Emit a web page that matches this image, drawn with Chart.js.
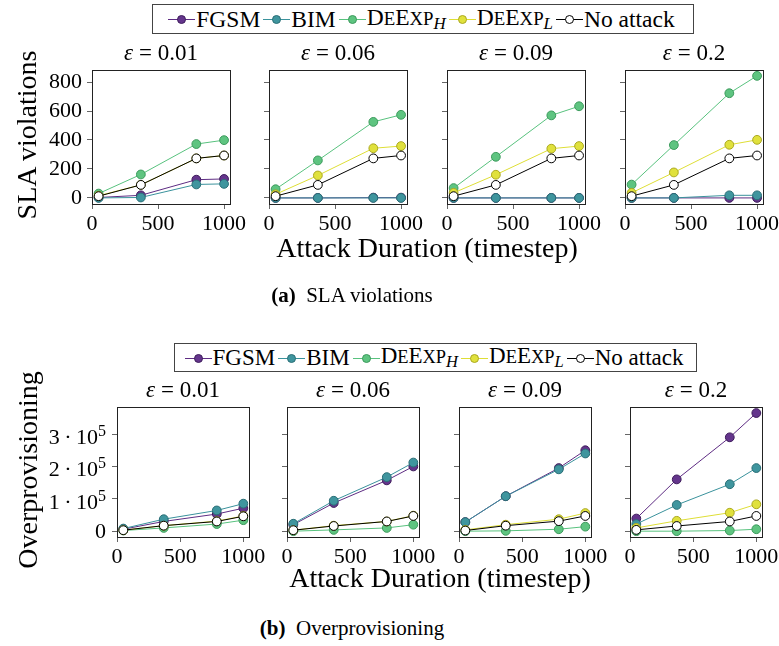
<!DOCTYPE html>
<html>
<head>
<meta charset="utf-8">
<script src="https://cdn.jsdelivr.net/npm/chart.js@4.4.1/dist/chart.umd.min.js"></script>
<style>
  body { margin: 0; background: #fff; width: 779px; height: 646px; position: relative; overflow: hidden;
         font-family: "Liberation Serif", "Times New Roman", serif; color: #000; }
  .abs { position: absolute; }
  .ctr { transform: translate(-50%, -50%); white-space: nowrap; }
  .title { font-size: 23px; }
  .axlabel { font-size: 28px; }
  .caption { font-size: 21px; }
  .legend { border: 1px solid #444; display: flex; align-items: center; justify-content: center; box-sizing: border-box; }
  .item { display: flex; align-items: center; margin-right: 3px; white-space: nowrap; }
  .mk { display: inline-block; width: 27px; height: 10px; position: relative; margin-right: 1px; }
  .mk::before { content: ""; position: absolute; left: 0; right: 0; top: 5px; border-top: 1px solid var(--c); }
  .mk::after { content: ""; position: absolute; left: 9px; top: 1px; width: 7px; height: 7px; border-radius: 50%;
               background: var(--f); border: 1px solid var(--b); }
  .s { font-size: 0.8em; }
  sub { font-size: 0.72em; vertical-align: -0.25em; }
  canvas { position: absolute; }
</style>
</head>
<body>
<script>
// x positions (attack duration, timestep)
const durations = [50, 370, 790, 1000];
const epsilons = ["0.01", "0.06", "0.09", "0.2"];

// SLA violations, one row per epsilon
const slaFGSM = [[3, 18, 126, 131], [0, 0, 2, 2], [0, 0, 0, 0], [0, 0, 0, 0]];
const slaBIM = [[0, 3, 93, 97], [0, 0, 0, 0], [0, 0, 0, 0], [0, 0, 18, 18]];
const slaDeExpH = [[30, 162, 372, 399], [60, 259, 525, 574], [68, 284, 570, 633], [92, 365, 723, 843]];
const slaDeExpL = [[15, 90, 273, 293], [25, 155, 343, 358], [35, 160, 340, 358], [35, 176, 367, 401]];
const slaNoAttack = [[12, 90, 273, 293], [12, 90, 273, 293], [12, 90, 273, 293], [12, 90, 273, 293]];
const slaTicks = [0, 200, 400, 600, 800];

// Overprovisioning, one row per epsilon
const ovFGSM = [[6e3, 30e3, 53e3, 71e3], [20e3, 87e3, 157e3, 200e3], [28e3, 108e3, 195e3, 250e3], [39e3, 160e3, 290e3, 365e3]];
const ovBIM = [[8e3, 37e3, 64e3, 85e3], [23e3, 94e3, 167e3, 212e3], [28e3, 108e3, 191e3, 240e3], [22e3, 81e3, 145e3, 195e3]];
const ovDeExpH = [[2e3, 10e3, 22e3, 34e3], [0, 4e3, 10e3, 20e3], [0, 1e3, 6e3, 14e3], [0, 0, 2e3, 6e3]];
const ovDeExpL = [[3e3, 17e3, 31e3, 47e3], [3e3, 17e3, 30e3, 48e3], [4e3, 20e3, 37e3, 56e3], [10e3, 32e3, 57e3, 83e3]];
const ovNoAttack = [[3e3, 17e3, 30e3, 46e3], [3e3, 16e3, 30e3, 47e3], [2e3, 17e3, 31e3, 47e3], [4e3, 16e3, 30e3, 47e3]];
const ovTicks = [0, 100000, 200000, 300000];
const xTicks = [0, 500, 1000];

const seriesStyle = [
    { label: "FGSM", line: "#5e2c83", fill: "#64358c", border: "#3f1d5c" },
    { label: "BIM", line: "#3a929c", fill: "#3f959e", border: "#2a6e76" },
    { label: "DeExpH", line: "#58c27e", fill: "#5ec480", border: "#3c9a5c" },
    { label: "DeExpL", line: "#dede36", fill: "#e0e13c", border: "#aaa820" },
    { label: "No attack", line: "#000000", fill: "#ffffff", border: "#000000" },
];

const rows = [
    { data: [slaFGSM, slaBIM, slaDeExpH, slaDeExpL, slaNoAttack], ticks: slaTicks, min: -42, max: 882,
      lefts: [92, 269, 447, 625], top: 67, w: 138, h: 137, sci: false },
    { data: [ovFGSM, ovBIM, ovDeExpH, ovDeExpL, ovNoAttack], ticks: ovTicks, min: -18000, max: 383000,
      lefts: [117, 287, 459, 630], top: 404, w: 132, h: 133, sci: true },
];

const serif = "'Liberation Serif', 'Times New Roman', serif";
const tickFont = { family: serif, size: 22 };
const L = 80, T = 15, R = 30, B = 40;

const boxPlugin = {
    id: "box",
    beforeDatasetsDraw(chart) {
        const a = chart.chartArea, ctx = chart.ctx;
        ctx.save();
        ctx.strokeStyle = "#222";
        ctx.lineWidth = 1;
        ctx.strokeRect(Math.round(a.left) + 0.5, Math.round(a.top) + 0.5, Math.round(a.right - a.left), Math.round(a.bottom - a.top));
        ctx.restore();
    },
};

// y tick labels like "3·10^5" with a real superscript
const sciTicksPlugin = {
    id: "sciTicks",
    afterDraw(chart, args, opts) {
        if (!opts.on) return;
        const ctx = chart.ctx, y = chart.scales.y;
        const right = chart.chartArea.left - 11;
        ctx.save();
        ctx.fillStyle = "#000";
        ctx.textAlign = "right";
        ctx.textBaseline = "alphabetic";
        y.ticks.forEach((t) => {
            const py = y.getPixelForValue(t.value);
            if (t.value === 0) {
                ctx.font = "22px " + serif;
                ctx.fillText("0", right, py + 7);
                return;
            }
            ctx.font = "16px " + serif;
            ctx.fillText("5", right, py + 2);
            const sw = ctx.measureText("5").width;
            ctx.font = "22px " + serif;
            ctx.fillText(t.value / 100000 + "\u2009\u00b7\u200910", right - sw, py + 10);
        });
        ctx.restore();
    },
};

function drawPanel(row, i) {
    const canvas = document.createElement("canvas");
    canvas.width = row.w + L + R;
    canvas.height = row.h + T + B;
    canvas.style.left = row.lefts[i] - L + "px";
    canvas.style.top = row.top - T + "px";
    document.body.appendChild(canvas);

    const order = [4, 3, 2, 1, 0];
    const datasets = seriesStyle.map((s, k) => ({
        label: s.label,
        data: durations.map((x, j) => ({ x: x, y: row.data[k][i][j] })),
        borderColor: s.line,
        borderWidth: 1,
        backgroundColor: s.fill,
        pointBackgroundColor: s.fill,
        pointBorderColor: s.border,
        pointBorderWidth: 1,
        pointRadius: 4.4,
        order: order[k],
    }));

    const showLabels = i === 0 && !row.sci;

    new Chart(canvas, {
        type: "line",
        data: { datasets: datasets },
        plugins: [boxPlugin, sciTicksPlugin],
        options: {
            responsive: false,
            animation: false,
            layout: { padding: { left: 0, top: T, right: R, bottom: 0 } },
            plugins: { legend: { display: false }, tooltip: { enabled: false }, sciTicks: { on: i === 0 && row.sci } },
            scales: {
                x: {
                    type: "linear", min: 0, max: 1045,
                    afterBuildTicks: (s) => { s.ticks = xTicks.map((v) => ({ value: v })); },
                    afterFit: (s) => { s.height = B; },
                    ticks: { font: tickFont, color: "#000", padding: 2, maxRotation: 0, callback: (v) => String(v) },
                    grid: { drawOnChartArea: false, tickLength: 5, color: "#666" },
                    border: { display: false },
                },
                y: {
                    type: "linear", min: row.min, max: row.max,
                    afterBuildTicks: (s) => { s.ticks = row.ticks.map((v) => ({ value: v })); },
                    afterFit: (s) => { s.width = L; },
                    ticks: { font: tickFont, color: "#000", padding: 5, callback: (v) => (showLabels ? String(v) : "") },
                    grid: { drawOnChartArea: false, tickLength: 5, color: "#666" },
                    border: { display: false },
                },
            },
        },
    });

    const t = document.createElement("div");
    t.className = "abs ctr title";
    t.style.left = row.lefts[i] + row.w / 2 + "px";
    t.style.top = row.top - 14 + "px";
    t.innerHTML = "<i>\u03b5</i> = " + epsilons[i];
    document.body.appendChild(t);
}

function addText(html, cls, x, y, rot) {
    const d = document.createElement("div");
    d.className = "abs ctr " + cls;
    d.style.left = x + "px";
    d.style.top = y + "px";
    if (rot) d.style.transform = "translate(-50%, -50%) rotate(-90deg)";
    d.innerHTML = html;
    document.body.appendChild(d);
}

function addLegend(left, top, width, height, size) {
    const lg = document.createElement("div");
    lg.className = "abs legend";
    Object.assign(lg.style, { left: left + "px", top: top + "px", width: width + "px", height: height + "px", fontSize: size + "px" });
    const deexp = "D<span class='s'>E</span>E<span class='s'>XP</span>";
    const names = ["FGSM", "BIM", deexp + "<sub><i>H</i></sub>", deexp + "<sub><i>L</i></sub>", "No attack"];
    seriesStyle.forEach((s, k) => {
        const it = document.createElement("span");
        it.className = "item";
        it.innerHTML = `<span class="mk" style="--c:${s.line};--f:${s.fill};--b:${s.border}"></span><span>${names[k]}</span>`;
        lg.appendChild(it);
    });
    document.body.appendChild(lg);
}

rows.forEach((row) => row.lefts.forEach((_, i) => drawPanel(row, i)));

addLegend(152, 4, 542, 30, 23.5);
addLegend(174, 343, 523, 29, 23);

addText("SLA violations", "axlabel", 27, 135, true);
addText("Attack Duration (timestep)", "axlabel", 427, 248);
addText("<b>(a)</b>&nbsp; SLA violations", "caption", 352, 295);

addText("Overprovisioning", "axlabel", 28, 470, true);
addText("Attack Duration (timestep)", "axlabel", 440, 578);
addText("<b>(b)</b>&nbsp; Overprovisioning", "caption", 352, 628);
</script>
</body>
</html>
